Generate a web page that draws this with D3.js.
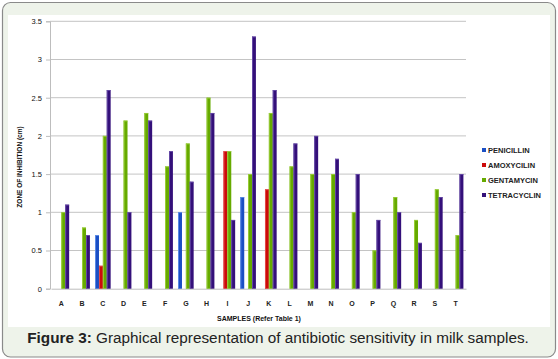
<!DOCTYPE html>
<html><head><meta charset="utf-8">
<script src="https://cdn.jsdelivr.net/npm/d3@7"></script>
<style>body{margin:0;background:#fff}svg{display:block}</style>
</head><body>
<script>
const categories = ["A","B","C","D","E","F","G","H","I","J","K","L","M","N","O","P","Q","R","S","T"];
const seriesNames = ["PENICILLIN","AMOXYCILIN","GENTAMYCIN","TETRACYCLIN"];
const penicillin  = [0,0,0.7,0,0,0,1.0,0,0,1.2,0,0,0,0,0,0,0,0,0,0];
const amoxycilin  = [0,0,0.3,0,0,0,0,0,1.8,0,1.3,0,0,0,0,0,0,0,0,0];
const gentamycin  = [1.0,0.8,2.0,2.2,2.3,1.6,1.9,2.5,1.8,1.5,2.3,1.6,1.5,1.5,1.0,0.5,1.2,0.9,1.3,0.7];
const tetracyclin = [1.1,0.7,2.6,1.0,2.2,1.8,1.4,2.3,0.9,3.3,2.6,1.9,2.0,1.7,1.5,0.9,1.0,0.6,1.2,1.5];
const yTicks = [0,0.5,1,1.5,2,2.5,3,3.5];
const seriesValues = [penicillin, amoxycilin, gentamycin, tetracyclin];
const colors = ["#1b4fc4","#cc0a0a","#66aa00","#34107a"];
const highlights = ["#5f8fe8","#e55050","#9ccf3c","#6a4eaa"];

const W=558,H=359;
const svg=d3.select("body").append("svg").attr("width",W).attr("height",H);
svg.append("rect").attr("x",2.5).attr("y",2.5).attr("width",553).attr("height",354.5)
  .attr("rx",8).attr("fill","#eef3ea").attr("stroke","#8a8a8a").attr("stroke-width",1.2);
svg.append("rect").attr("x",8).attr("y",15).attr("width",542).attr("height",312).attr("fill","#fff");

const y=d3.scaleLinear().domain([0,3.5]).range([288.7,21.3]);
const x0=d3.scaleBand().domain(categories).range([51,466]).paddingInner(0.25).paddingOuter(0.125);
const x1=d3.scaleBand().domain(seriesNames).range([0,x0.bandwidth()]);

// grid
svg.append("g").selectAll("line").data(yTicks.filter(d=>d>0)).join("line")
  .attr("x1",50).attr("x2",466).attr("y1",d=>y(d)).attr("y2",d=>y(d))
  .attr("stroke","#c4c4c4").attr("stroke-width",1);
// y axis
const ya=svg.append("g").attr("transform","translate(50,0)").call(d3.axisLeft(y).tickValues(yTicks).tickSize(4).tickFormat(d3.format("")));
ya.select(".domain").attr("stroke","#bdbdbd");
ya.selectAll(".tick line").attr("stroke","#bdbdbd");
ya.selectAll("text").attr("x",-8).attr("font-family","Liberation Sans, Arial, sans-serif").attr("font-size",7.5).attr("fill","#111");
// x axis
const xa=svg.append("g").attr("transform","translate(0,288.7)").call(d3.axisBottom(x0).tickSize(0).tickPadding(12));
xa.select(".domain").attr("stroke","#bdbdbd");
xa.selectAll("text").attr("font-family","Liberation Sans, Arial, sans-serif").attr("font-weight","bold").attr("font-size",7).attr("fill","#222");

// bars
const data=categories.map((c,i)=>({c,vals:seriesNames.map((s,j)=>({s,j,v:seriesValues[j][i]}))}));
const g=svg.append("g").selectAll("g").data(data).join("g").attr("transform",d=>`translate(${x0(d.c)},0)`);
g.selectAll("rect.b").data(d=>d.vals.filter(e=>e.v>0)).join("rect").attr("class","b")
  .attr("x",d=>x1(d.s)).attr("width",x1.bandwidth()).attr("y",d=>y(d.v)).attr("height",d=>y(0)-y(d.v))
  .attr("fill",d=>colors[d.j]);
g.selectAll("rect.h").data(d=>d.vals.filter(e=>e.v>0)).join("rect").attr("class","h")
  .attr("x",d=>x1(d.s)).attr("width",0.9).attr("y",d=>y(d.v)).attr("height",d=>y(0)-y(d.v))
  .attr("fill",d=>highlights[d.j]);
g.selectAll("rect.t").data(d=>d.vals.filter(e=>e.v>0)).join("rect").attr("class","t")
  .attr("x",d=>x1(d.s)).attr("width",x1.bandwidth()).attr("y",d=>y(d.v)).attr("height",0.8)
  .attr("fill",d=>highlights[d.j]);

// axis titles
svg.append("text").attr("x",259).attr("y",321).attr("text-anchor","middle")
  .attr("font-family","Liberation Sans, Arial, sans-serif").attr("font-weight","bold").attr("font-size",7).attr("fill","#111")
  .text("SAMPLES (Refer Table 1)");
svg.append("text").attr("transform","translate(22,167) rotate(-90)").attr("text-anchor","middle")
  .attr("font-family","Liberation Sans, Arial, sans-serif").attr("font-weight","bold").attr("font-size",6.5).attr("fill","#111")
  .text("ZONE OF INHIBITION (cm)");

// legend
const lg=svg.append("g").selectAll("g").data(seriesNames).join("g").attr("transform",(d,i)=>`translate(482,${150+i*15})`);
lg.append("rect").attr("x",0).attr("y",-2).attr("width",4).attr("height",4).attr("fill",(d,i)=>colors[i]);
lg.append("text").attr("x",6).attr("y",2.6).attr("font-family","Liberation Sans, Arial, sans-serif").attr("font-weight","bold")
  .attr("font-size",7.5).attr("fill","#222").text(d=>d);

// caption
const cap=svg.append("text").attr("x",278).attr("y",343).attr("text-anchor","middle")
  .attr("font-family","Liberation Sans, Arial, sans-serif").attr("font-size",15.3).attr("fill","#222");
cap.append("tspan").attr("font-weight","bold").text("Figure 3:");
cap.append("tspan").text(" Graphical representation of antibiotic sensitivity in milk samples.");
</script>
</body></html>
